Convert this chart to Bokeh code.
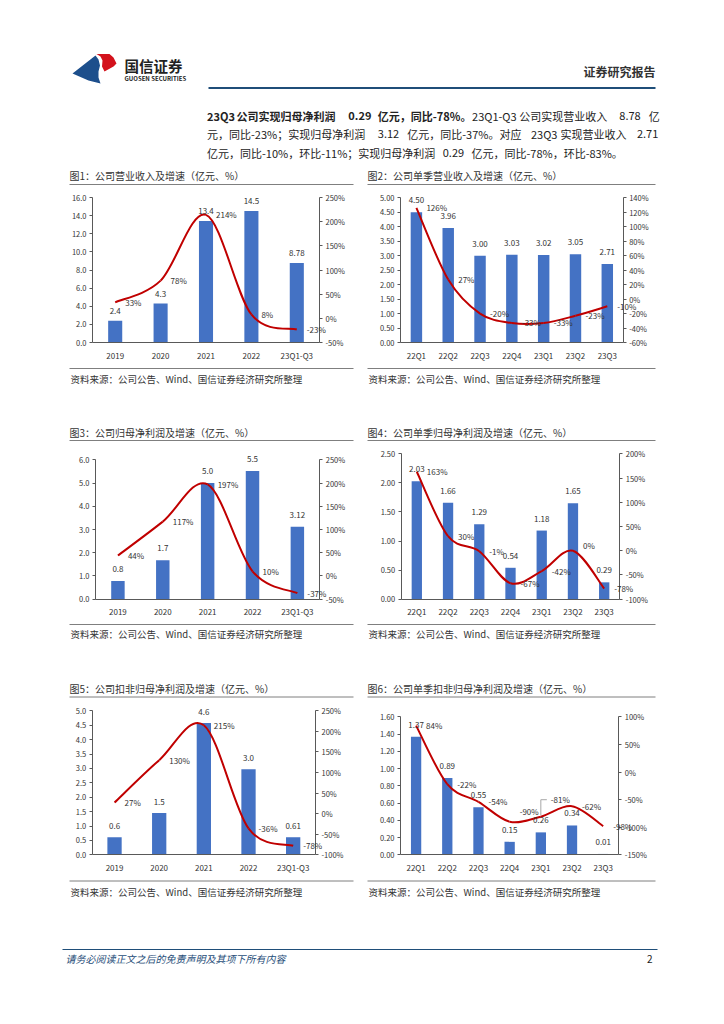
from bokeh.plotting import figure
from bokeh.models import (Range1d, LinearAxis, FixedTicker, NumeralTickFormatter,
                          PrintfTickFormatter, ColumnDataSource, Label)
from bokeh.layouts import column, row
from bokeh.embed import file_html
from bokeh.resources import INLINE
from bokeh.core.properties import value

FONT = "Noto Sans CJK SC"
BLUE = "#4472C4"
RED = "#C00000"
TXT = "#333333"

# ---------------- data ----------------
c1_cats = ["2019", "2020", "2021", "2022", "23Q1-Q3"]
c1_vals = [2.4, 4.3, 13.4, 14.5, 8.78]
c1_vlab = ["2.4", "4.3", "13.4", "14.5", "8.78"]
c1_grow = [33, 78, 214, 8, -23]

c2_cats = ["22Q1", "22Q2", "22Q3", "22Q4", "23Q1", "23Q2", "23Q3"]
c2_vals = [4.50, 3.96, 3.00, 3.03, 3.02, 3.05, 2.71]
c2_vlab = ["4.50", "3.96", "3.00", "3.03", "3.02", "3.05", "2.71"]
c2_grow = [126, 27, -20, -33, -33, -23, -10]

c3_cats = ["2019", "2020", "2021", "2022", "23Q1-Q3"]
c3_vals = [0.78, 1.68, 5.0, 5.52, 3.12]
c3_vlab = ["0.8", "1.7", "5.0", "5.5", "3.12"]
c3_grow = [44, 117, 197, 10, -37]

c4_cats = ["22Q1", "22Q2", "22Q3", "22Q4", "23Q1", "23Q2", "23Q3"]
c4_vals = [2.03, 1.66, 1.29, 0.54, 1.18, 1.65, 0.29]
c4_vlab = ["2.03", "1.66", "1.29", "0.54", "1.18", "1.65", "0.29"]
c4_grow = [163, 30, -1, -67, -42, 0, -78]

c5_cats = ["2019", "2020", "2021", "2022", "23Q1-Q3"]
c5_vals = [0.61, 1.45, 4.58, 2.97, 0.61]
c5_vlab = ["0.6", "1.5", "4.6", "3.0", "0.61"]
c5_grow = [27, 130, 215, -36, -78]

c6_cats = ["22Q1", "22Q2", "22Q3", "22Q4", "23Q1", "23Q2", "23Q3"]
c6_vals = [1.37, 0.89, 0.55, 0.15, 0.26, 0.34, 0.01]
c6_vlab = ["1.37", "0.89", "0.55", "0.15", "0.26", "0.34", "0.01"]
c6_grow = [84, -22, -54, -90, -81, -62, -98]

titles = [
    "图1：公司营业收入及增速（亿元、%）",
    "图2：公司单季营业收入及增速（亿元、%）",
    "图3：公司归母净利润及增速（亿元、%）",
    "图4：公司单季归母净利润及增速（亿元、%）",
    "图5：公司扣非归母净利润及增速（亿元、%）",
    "图6：公司单季扣非归母净利润及增速（亿元、%）",
]
source_text = "资料来源：公司公告、Wind、国信证券经济研究所整理"
header_cn = "国信证券"
header_en = "GUOSEN SECURITIES"
header_right = "证券研究报告"
footer_text = "请务必阅读正文之后的免责声明及其项下所有内容"
page_no = "2"

# paragraph, as (text, bold, space-before) pieces
para_line1 = [("23Q3", True, 0), ("公司实现归母净利润", True, 1), ("0.29", True, 1),
              ("亿元，同比-78%。", True, 1), ("23Q1-Q3", False, 0), ("公司实现营业收入", False, 1),
              ("8.78", False, 1), ("亿", False, 1)]
para_line2 = [("元，同比-23%；实现归母净利润", False, 0), ("3.12", False, 1),
              ("亿元，同比-37%。对应", False, 1), ("23Q3", False, 1), ("实现营业收入", False, 1),
              ("2.71", False, 1)]
para_line3 = [("亿元，同比-10%，环比-11%；实现归母净利润", False, 0), ("0.29", False, 1),
              ("亿元，同比-78%，环比-83%。", False, 1)]


def pct_label(v):
    return f"{v}%"


def smooth(xs, ys):
    n = len(xs)
    out = {k: [] for k in ["x0", "y0", "x1", "y1", "cx0", "cy0", "cx1", "cy1"]}
    for i in range(n - 1):
        a = max(i - 1, 0)
        d = min(i + 2, n - 1)
        out["x0"].append(xs[i]); out["y0"].append(ys[i])
        out["x1"].append(xs[i + 1]); out["y1"].append(ys[i + 1])
        out["cx0"].append(xs[i] + (xs[i + 1] - xs[a]) / 6.0)
        out["cy0"].append(ys[i] + (ys[i + 1] - ys[a]) / 6.0)
        out["cx1"].append(xs[i + 1] - (xs[d] - xs[i]) / 6.0)
        out["cy1"].append(ys[i + 1] - (ys[d] - ys[i]) / 6.0)
    return out


def style_axis(ax, size="7.5px"):
    axc = "#595959"
    ax.minor_tick_line_color = None
    ax.axis_line_color = axc
    ax.major_tick_line_color = axc
    ax.major_tick_in = 0
    ax.major_tick_out = 3
    ax.major_label_standoff = 3
    ax.major_label_text_font = FONT
    ax.major_label_text_font_size = size
    ax.major_label_text_color = TXT


def chart(cats, vals, vlab, grow, ymax, lticks, lfmt, prange, pticks, bw,
          W, H, L, R, T, Bt, gdy=None, voff=11):
    """W,H figure size; L,R,T,Bt: pixel box of the plotting area inside the figure."""
    n = len(cats)
    xs = list(range(1, n + 1))
    sx = n / (R - L)
    sy = ymax / (Bt - T)
    pmin, pmax = prange
    sp = (pmax - pmin) / (Bt - T)
    p = figure(width=W, height=H,
               x_range=Range1d(0.5 - L * sx, n + 0.5 + (W - R) * sx),
               y_range=Range1d(0 - (H - Bt) * sy, ymax + T * sy),
               x_axis_type=None, y_axis_type=None,
               toolbar_location=None, output_backend="svg", tools="", min_border=0)
    p.extra_y_ranges = {"pct": Range1d(pmin - (H - Bt) * sp, pmax + T * sp)}
    p.outline_line_color = None
    p.grid.visible = False

    p.vbar(x=xs, top=vals, width=bw, fill_color=BLUE, line_color=None)

    seg = smooth(xs, grow)
    p.bezier(source=ColumnDataSource(seg), x0="x0", y0="y0", x1="x1", y1="y1",
             cx0="cx0", cy0="cy0", cx1="cx1", cy1="cy1",
             line_color=RED, line_width=2, y_range_name="pct")

    for x, v, t in zip(xs, vals, vlab):
        p.add_layout(Label(x=x, y=v, text=t, y_offset=voff,
                           text_align="center", text_baseline="middle",
                           text_font=FONT, text_font_size="8px", text_color=TXT))

    dy = gdy if gdy is not None else [0] * n
    for x, g, d in zip(xs, grow, dy):
        p.add_layout(Label(x=x, y=g, text=pct_label(g), x_offset=10, y_offset=d,
                           y_range_name="pct",
                           text_align="left", text_baseline="middle",
                           text_font=FONT, text_font_size="8px", text_color=TXT))

    ax = LinearAxis(ticker=FixedTicker(ticks=xs), fixed_location=0, bounds=(0.5, n + 0.5))
    style_axis(ax, "8px")
    ax.major_label_overrides = {x: c for x, c in zip(xs, cats)}
    ax.major_tick_line_color = None
    ax.major_label_standoff = 4
    p.add_layout(ax, "below")

    ay = LinearAxis(ticker=FixedTicker(ticks=lticks), formatter=NumeralTickFormatter(format=lfmt),
                    fixed_location=0.5, bounds=(0, ymax))
    style_axis(ay)
    p.add_layout(ay, "left")

    ar = LinearAxis(y_range_name="pct", ticker=FixedTicker(ticks=pticks),
                    formatter=PrintfTickFormatter(format="%d%%"),
                    fixed_location=n + 0.5, bounds=(pmin, pmax))
    style_axis(ar)
    p.add_layout(ar, "right")
    return p


def strip(y0, y1):
    p = figure(width=716, height=int(y1 - y0), x_range=Range1d(0, 716), y_range=Range1d(y1, y0),
               toolbar_location=None, output_backend="svg", tools="",
               x_axis_type=None, y_axis_type=None, min_border=0)
    p.grid.visible = False
    p.outline_line_color = None
    return p


def put_text(p, x, y, t, size, color=TXT, align="left", style="normal"):
    p.text(x=[x], y=[y], text=[t], text_align=align, text_baseline="middle",
           text_font=value(FONT), text_font_size=size, text_color=color, text_font_style=style)


def hline(p, x0, x1, y, color="#7f7f7f", w=1):
    p.segment(x0=[x0], y0=[y], x1=[x1], y1=[y], line_color=color, line_width=w)


def em(s):
    return sum(1.0 if ord(ch) > 0x2e7f else 0.5 for ch in s)


def para_line(p, pieces, x0, y, unit):
    pos = 0.0
    for text, bold, sp in pieces:
        pos += 0.5 * sp
        put_text(p, x0 + pos * unit, y, text, "11px", color="#222222",
                 style="bold" if bold else "normal")
        pos += em(text)


def line_em(pieces):
    return sum(em(t) + 0.5 * sp for t, _, sp in pieces)


# ---------------- header strip ----------------
A = strip(0, 188)
A.patch([72, 95, 98, 99.5, 98, 98, 100, 88], [73, 55, 59, 65, 71, 77, 83, 80],
        fill_color="#1D4F8C", line_color=None)
A.patch([96, 109, 113, 116, 113, 104, 101.5, 102, 100], [53.5, 53.5, 57, 63, 66, 71, 66, 60, 56],
        fill_color="#D3121C", line_color=None)
put_text(A, 124, 65, header_cn, "14.5px", color="#222222", style="bold")
put_text(A, 124, 78, header_en, "6px", color="#222222", style="bold")
put_text(A, 655, 71, header_right, "12px", color="#333333", align="right", style="bold")
hline(A, 208, 655, 87.5, color="#1F4E79", w=2.2)

X0 = 206.5
para_line(A, para_line1, X0, 115, (660 - X0) / line_em(para_line1))
para_line(A, para_line2, X0, 133.5, (660 - X0) / line_em(para_line2))
para_line(A, para_line3, X0, 152, 11.5)

put_text(A, 69, 175, titles[0], "10px")
put_text(A, 367, 175, titles[1], "10px")
hline(A, 69, 353, 184)
hline(A, 367, 655, 184)

# ---------------- strip B ----------------
B = strip(362, 446)
hline(B, 69, 353, 368)
hline(B, 367, 655, 368)
put_text(B, 70, 378, source_text, "9.5px")
put_text(B, 368, 378, source_text, "9.5px")
put_text(B, 69, 431.5, titles[2], "10px")
put_text(B, 367, 431.5, titles[3], "10px")
hline(B, 69, 353, 440)
hline(B, 367, 655, 440)

# ---------------- strip C ----------------
C = strip(618, 702)
hline(C, 69, 353, 624)
hline(C, 367, 655, 624)
put_text(C, 70, 633, source_text, "9.5px")
put_text(C, 368, 633, source_text, "9.5px")
put_text(C, 69, 687.5, titles[4], "10px")
put_text(C, 367, 687.5, titles[5], "10px")
hline(C, 69, 353, 696.5)
hline(C, 367, 655, 696.5)

# ---------------- strip D ----------------
D = strip(874, 1000)
hline(D, 69, 353, 880.5)
hline(D, 367, 655, 880.5)
put_text(D, 70, 891, source_text, "9.5px")
put_text(D, 368, 891, source_text, "9.5px")
hline(D, 62, 657, 949, color="#1F4E79", w=1.2)
put_text(D, 65, 958, footer_text, "10px", color="#1F4E79", style="italic")
put_text(D, 652, 958, page_no, "10px", color="#222222", align="right")

# ---------------- charts ----------------
p1 = chart(c1_cats, c1_vals, c1_vlab, c1_grow, 16, [0, 2, 4, 6, 8, 10, 12, 14, 16], "0.0",
           (-50, 250), [-50, 0, 50, 100, 150, 200, 250], 0.31,
           362, 174, 92, 319, 9, 154, voff=10)
p2 = chart(c2_cats, c2_vals, c2_vlab, c2_grow, 5, [0, 0.5, 1, 1.5, 2, 2.5, 3, 3.5, 4, 4.5, 5], "0.00",
           (-60, 140), [-60, -40, -20, 0, 20, 40, 60, 80, 100, 120, 140], 0.36,
           354, 174, 38, 260.7, 9.3, 154, voff=12)
p3 = chart(c3_cats, c3_vals, c3_vlab, c3_grow, 6, [0, 1, 2, 3, 4, 5, 6], "0.0",
           (-50, 250), [-50, 0, 50, 100, 150, 200, 250], 0.30,
           362, 172, 95, 319.3, 13.3, 152.7, voff=12)
p4 = chart(c4_cats, c4_vals, c4_vlab, c4_grow, 2.5, [0, 0.5, 1, 1.5, 2, 2.5], "0.00",
           (-100, 200), [-100, -50, 0, 50, 100, 150, 200], 0.33,
           354, 172, 38.7, 257.3, 7.3, 152.7, gdy=[0, 0, 0, 0, 0, 5, 0], voff=12)
p5 = chart(c5_cats, c5_vals, c5_vlab, c5_grow, 5, [0, 0.5, 1, 1.5, 2, 2.5, 3, 3.5, 4, 4.5, 5], "0.0",
           (-100, 250), [-100, -50, 0, 50, 100, 150, 200, 250], 0.32,
           362, 172, 91.7, 315, 8.3, 152.3, voff=11)
p6 = chart(c6_cats, c6_vals, c6_vlab, c6_grow, 1.6, [0, 0.2, 0.4, 0.6, 0.8, 1.0, 1.2, 1.4, 1.6], "0.00",
           (-150, 100), [-150, -100, -50, 0, 50, 100], 0.33,
           354, 172, 38, 256.3, 14.3, 152.3, gdy=[0, 0, 0, 10, 17, 0, 0], voff=12)

# leader line for the 23Q1 label of chart 6 (label lifted 17px above its point)
fh6 = 152.3 - 14.3
fw6 = 256.3 - 38
k = 4
py = c6_grow[k]
lift = 17 * (100 - (-150)) / fh6
p6.line(x=[k + 1, k + 1, k + 1 + 6 * len(c6_cats) / fw6],
        y=[py + 1.5 * 250 / fh6, py + lift, py + lift],
        y_range_name="pct", line_color="#A6A6A6", line_width=1)

page = column(A, row(p1, p2), B, row(p3, p4), C, row(p5, p6), D)

open("out.html", "w").write(file_html(page, INLINE))
